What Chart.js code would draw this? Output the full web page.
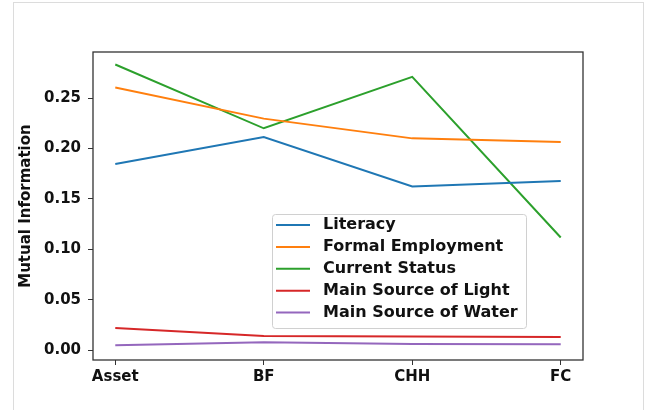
<!DOCTYPE html>
<html>
<head>
<meta charset="utf-8">
<script src="https://cdn.jsdelivr.net/npm/chart.js@4/dist/chart.umd.min.js"></script>
<style>
	html, body { margin: 0; padding: 0; background: #fff; }
	#wrap { position: relative; width: 649px; height: 410px; overflow: hidden; }
	#frame { position: absolute; left: 13px; top: 2px; width: 631px; height: 430px; border: 1px solid #dcdcdc; box-sizing: border-box; }
	canvas { position: absolute; left: 0; top: 0; }
</style>
</head>
<body>
<div id="wrap">
	<div id="frame"></div>
	<canvas id="chart" width="649" height="410"></canvas>
</div>
<script>
const categories = ['Asset', 'BF', 'CHH', 'FC'];
const seriesNames = ['Literacy', 'Formal Employment', 'Current Status', 'Main Source of Light', 'Main Source of Water'];
const literacy = [0.1846, 0.2114, 0.1623, 0.1677];
const formalEmployment = [0.2604, 0.2296, 0.2100, 0.2065];
const currentStatus = [0.2833, 0.2200, 0.2710, 0.1116];
const sourceOfLight = [0.0219, 0.0139, 0.0135, 0.0129];
const sourceOfWater = [0.0047, 0.0077, 0.0060, 0.0057];
const yTicks = [0, 0.05, 0.10, 0.15, 0.20, 0.25];
const colors = ['#1f77b4', '#ff7f0e', '#2ca02c', '#d62728', '#9467bd'];

const values = [literacy, formalEmployment, currentStatus, sourceOfLight, sourceOfWater];
const font = {family: 'DejaVu Sans', weight: 'bold', size: 15};

const datasets = values.map(function(vals, i) {
	return {
		label: seriesNames[i],
		data: vals.map(function(v, k) { return {x: k, y: v}; }),
		borderColor: colors[i],
		backgroundColor: colors[i],
		borderWidth: 2,
		pointRadius: 0,
		tension: 0,
		fill: false
	};
});

// box round the plot area, like matplotlib spines
const frame = {
	id: 'frame',
	afterDatasetsDraw(chart) {
		const a = chart.chartArea;
		const ctx = chart.ctx;
		ctx.save();
		ctx.strokeStyle = '#333';
		ctx.lineWidth = 1.3;
		ctx.strokeRect(a.left, a.top, a.right - a.left, a.bottom - a.top);
		ctx.restore();
	}
};

// legend inside the axes
const boxLegend = {
	id: 'boxLegend',
	afterDraw(chart) {
		const a = chart.chartArea;
		const ctx = chart.ctx;
		const w = 254, h = 114;
		const x = a.right - 57 - w, y = a.bottom - 32 - h;
		ctx.save();
		ctx.fillStyle = 'rgba(255,255,255,0.85)';
		ctx.strokeStyle = '#d0d0d0';
		ctx.lineWidth = 1;
		ctx.beginPath();
		ctx.roundRect(x + 0.5, y + 0.5, w, h, 3);
		ctx.fill();
		ctx.stroke();
		ctx.font = 'bold 16px "DejaVu Sans"';
		ctx.textBaseline = 'middle';
		chart.data.datasets.forEach(function(ds, i) {
			const cy = y + 11 + i * 21.9;
			ctx.strokeStyle = ds.borderColor;
			ctx.lineWidth = 2;
			ctx.beginPath();
			ctx.moveTo(x + 4, cy);
			ctx.lineTo(x + 38, cy);
			ctx.stroke();
			ctx.fillStyle = '#111';
			ctx.fillText(ds.label, x + 51, cy);
		});
		ctx.restore();
	}
};

new Chart(document.getElementById('chart').getContext('2d'), {
	type: 'line',
	data: {datasets: datasets},
	plugins: [frame, boxLegend],
	options: {
		responsive: false,
		animation: false,
		layout: {padding: {left: 13, top: 52, right: 66, bottom: 0}},
		plugins: {
			legend: {display: false},
			tooltip: {enabled: false}
		},
		scales: {
			x: {
				type: 'linear',
				min: -0.15,
				max: 3.15,
				afterBuildTicks(scale) {
					scale.ticks = categories.map(function(c, i) { return {value: i}; });
				},
				afterFit(scale) { scale.height = 50; },
				grid: {drawOnChartArea: false, drawTicks: true, tickLength: 5, color: '#333'},
				border: {display: false},
				ticks: {
					font: font,
					color: '#111',
					padding: 3,
					maxRotation: 0,
					callback: function(v) { return categories[v]; }
				}
			},
			y: {
				min: -0.0099,
				max: 0.2957,
				afterBuildTicks(scale) {
					scale.ticks = yTicks.map(function(v) { return {value: v}; });
				},
				afterFit(scale) { scale.width = 80; },
				grid: {drawOnChartArea: false, drawTicks: true, tickLength: 5, color: '#333'},
				border: {display: false},
				title: {
					display: true,
					text: 'Mutual Information',
					font: font,
					color: '#111',
					padding: {top: 4, bottom: 0}
				},
				ticks: {
					font: font,
					color: '#111',
					padding: 7,
					callback: function(v) { return v.toFixed(2); }
				}
			}
		}
	}
});
</script>
</body>
</html>
